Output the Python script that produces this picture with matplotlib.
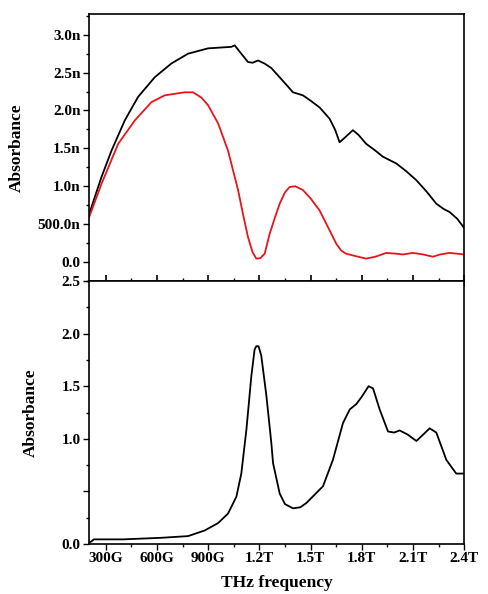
import matplotlib
matplotlib.use("Agg")
import matplotlib.pyplot as plt
from matplotlib.ticker import FixedLocator, MultipleLocator

# ---------------- DATA (frequency in THz) ----------------
black_f = [0.20, 0.274, 0.333, 0.411, 0.489, 0.587, 0.684, 0.782, 0.899, 1.036,
           1.055, 1.09, 1.133, 1.16, 1.192, 1.23, 1.27, 1.33, 1.397, 1.455,
           1.50, 1.553, 1.612, 1.645, 1.670, 1.70, 1.748, 1.78, 1.826, 1.88,
           1.924, 2.003, 2.06, 2.120, 2.18, 2.237, 2.28, 2.315, 2.36, 2.40]
black_v = [0.62, 1.12, 1.47, 1.87, 2.18, 2.44, 2.62, 2.75, 2.82, 2.84,
           2.86, 2.76, 2.64, 2.63, 2.66, 2.62, 2.56, 2.41, 2.24, 2.20,
           2.13, 2.04, 1.89, 1.74, 1.58, 1.64, 1.74, 1.68, 1.56, 1.47,
           1.39, 1.30, 1.20, 1.08, 0.93, 0.77, 0.70, 0.66, 0.57, 0.45]

red_f = [0.20, 0.274, 0.372, 0.470, 0.567, 0.645, 0.762, 0.811, 0.86, 0.899,
         0.958, 1.016, 1.075, 1.105, 1.133, 1.16, 1.182, 1.205, 1.231, 1.26,
         1.29, 1.319, 1.35, 1.377, 1.41, 1.455, 1.50, 1.553, 1.60, 1.651,
         1.68, 1.709, 1.76, 1.826, 1.88, 1.944, 2.00, 2.042, 2.10, 2.16,
         2.217, 2.26, 2.315, 2.36, 2.40]
red_v = [0.58, 1.03, 1.56, 1.87, 2.11, 2.20, 2.24, 2.24, 2.17, 2.07,
         1.83, 1.47, 0.95, 0.62, 0.33, 0.13, 0.045, 0.05, 0.11, 0.37,
         0.58, 0.77, 0.92, 0.99, 1.00, 0.95, 0.84, 0.68, 0.47, 0.24,
         0.15, 0.11, 0.08, 0.045, 0.07, 0.12, 0.11, 0.10, 0.12, 0.10,
         0.07, 0.10, 0.12, 0.11, 0.10]

low_f = [0.20, 0.21, 0.23, 0.40, 0.626, 0.782, 0.880, 0.958, 1.016, 1.065,
         1.094, 1.124, 1.153, 1.172, 1.182, 1.195, 1.211, 1.241, 1.270, 1.280,
         1.319, 1.35, 1.397, 1.44, 1.475, 1.573, 1.631, 1.690, 1.73, 1.768,
         1.80, 1.84, 1.866, 1.905, 1.954, 1.99, 2.022, 2.07, 2.120, 2.16,
         2.198, 2.237, 2.296, 2.354, 2.40]
low_v = [0.02, 0.02, 0.045, 0.045, 0.06, 0.076, 0.13, 0.20, 0.29, 0.45,
         0.67, 1.09, 1.60, 1.85, 1.88, 1.88, 1.79, 1.41, 0.96, 0.77,
         0.48, 0.38, 0.34, 0.35, 0.39, 0.55, 0.80, 1.15, 1.28, 1.33,
         1.40, 1.50, 1.48, 1.28, 1.07, 1.06, 1.08, 1.04, 0.98, 1.04,
         1.10, 1.06, 0.80, 0.67, 0.67]

x_ticks = [0.3, 0.6, 0.9, 1.2, 1.5, 1.8, 2.1, 2.4]
x_labels = ["300G", "600G", "900G", "1.2T", "1.5T", "1.8T", "2.1T", "2.4T"]
top_yticks = [0.0, 0.5, 1.0, 1.5, 2.0, 2.5, 3.0]
top_ylabels = ["0.0", "500.0n", "1.0n", "1.5n", "2.0n", "2.5n", "3.0n"]
bot_yticks = [0.0, 0.5, 1.0, 1.5, 2.0, 2.5]
bot_ylabels = ["0.0", "", "1.0", "1.5", "2.0", "2.5"]

# ---------------- STYLE ----------------
plt.rcParams['font.family'] = ['Liberation Serif', 'DejaVu Serif']
plt.rcParams['font.weight'] = 'bold'
plt.rcParams['font.size'] = 11

fig = plt.figure(figsize=(4.88, 5.94), dpi=100)
ax1 = fig.add_axes([0.182, 0.527, 0.769, 0.449])
ax2 = fig.add_axes([0.182, 0.084, 0.769, 0.443])

# top panel
ax1.plot(black_f, black_v, color='black', lw=1.3)
ax1.plot(red_f, red_v, color='#e8141c', lw=1.3)
ax1.set_xlim(0.2, 2.4)
ax1.set_ylim(-0.25, 3.27)
ax1.yaxis.set_major_locator(FixedLocator(top_yticks))
ax1.set_yticklabels(top_ylabels)
ax1.yaxis.set_minor_locator(MultipleLocator(0.25))
ax1.xaxis.set_major_locator(FixedLocator(x_ticks))
ax1.xaxis.set_minor_locator(MultipleLocator(0.15))
ax1.tick_params(axis='x', which='both', direction='inout', labelbottom=False)
ax1.tick_params(axis='x', which='major', length=8, width=1.2)
ax1.tick_params(axis='x', which='minor', length=5, width=1.0)
ax1.tick_params(axis='y', which='both', direction='out', width=1.0, pad=2)
ax1.tick_params(axis='y', which='major', length=4)
ax1.tick_params(axis='y', which='minor', length=2)
ax1.set_ylabel("Absorbance", fontweight='bold', fontsize=12.5)
ax1.yaxis.set_label_coords(-0.17, 0.5)

# bottom panel
ax2.plot(low_f, low_v, color='black', lw=1.3)
ax2.set_xlim(0.2, 2.4)
ax2.set_ylim(0, 2.5)
ax2.yaxis.set_major_locator(FixedLocator(bot_yticks))
ax2.set_yticklabels(bot_ylabels)
ax2.yaxis.set_minor_locator(MultipleLocator(0.25))
ax2.xaxis.set_major_locator(FixedLocator(x_ticks))
ax2.set_xticklabels(x_labels)
ax2.xaxis.set_minor_locator(MultipleLocator(0.15))
ax2.tick_params(axis='x', which='both', direction='out', width=1.0, pad=2)
ax2.tick_params(axis='x', which='major', length=4)
ax2.tick_params(axis='x', which='minor', length=2)
ax2.tick_params(axis='y', which='both', direction='out', width=1.0, pad=2)
ax2.tick_params(axis='y', which='major', length=4)
ax2.tick_params(axis='y', which='minor', length=2)
ax2.set_ylabel("Absorbance", fontweight='bold', fontsize=12.5)
ax2.yaxis.set_label_coords(-0.133, 0.5)
ax2.set_xlabel("THz frequency", fontweight='bold', fontsize=12.5)
ax2.xaxis.set_label_coords(0.5, -0.118)

for ax in (ax1, ax2):
    for s in ax.spines.values():
        s.set_linewidth(1.2)

fig.savefig("out.png", dpi=100)
